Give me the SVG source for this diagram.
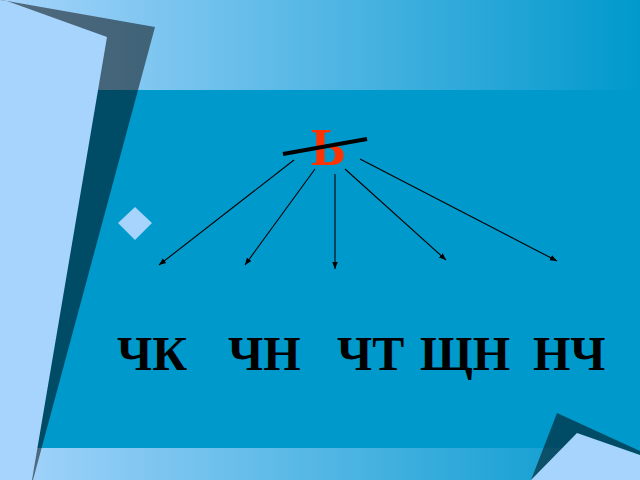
<svg xmlns="http://www.w3.org/2000/svg" width="640" height="480" viewBox="0 0 640 480">
<defs>
<linearGradient id="band" x1="0" y1="0" x2="640" y2="0" gradientUnits="userSpaceOnUse">
<stop offset="0" stop-color="#a6d4fc"/>
<stop offset="1" stop-color="#0099cc"/>
</linearGradient>
<marker id="ah" viewBox="0 0 10 10" refX="10" refY="5" markerWidth="7" markerHeight="7" markerUnits="userSpaceOnUse" orient="auto">
<path d="M0,1 L10,5 L0,9 Z" fill="#000"/>
</marker>
<style>
.shadow{fill:#000;opacity:0.5}
.panel{fill:#a6d4fc}
.word{font-family:"Liberation Serif","Times New Roman",serif;font-weight:bold;font-size:48px;fill:#000}
.soft{font-family:"Liberation Serif","Times New Roman",serif;font-weight:bold;font-size:53px;fill:#ff3300}
.conn line{stroke:#000;stroke-width:1.1;marker-end:url(#ah)}
</style>
</defs>
<g id="background">
<rect x="0" y="0" width="640" height="480" fill="url(#band)"/>
<rect x="0" y="90" width="640" height="358" fill="#0099cc"/>
<polygon class="shadow" points="7,1 155,27 33,480 0,480 0,0"/>
<polygon class="panel" points="0,0 7,1 107,37 32,480 0,480"/>
<polygon class="shadow" points="557,413 640,451 640,480 531,480"/>
<polygon class="panel" points="577,433 640,455 640,480 531,480"/>
</g>
<g id="bullet">
<polygon points="135,207 152,223 135,240 118,223" fill="#a6d4fc"/>
</g>
<g id="soft-sign">
<text class="soft" x="311" y="165">Ь</text>
<line x1="283" y1="154" x2="367" y2="139" stroke="#000" stroke-width="4"/>
</g>
<g class="conn" id="connectors">
<line x1="294" y1="160" x2="159" y2="265"/>
<line x1="315" y1="169" x2="245" y2="265"/>
<line x1="335" y1="174" x2="335" y2="269"/>
<line x1="345" y1="169" x2="446" y2="260"/>
<line x1="360" y1="159" x2="557" y2="261"/>
</g>
<g id="node-ck"><text class="word" x="117" y="370">ЧК</text></g>
<g id="node-chn"><text class="word" x="228" y="370">ЧН</text></g>
<g id="node-cht"><text class="word" x="337" y="370">ЧТ</text></g>
<g id="node-shchn"><text class="word" x="420" y="370">ЩН</text></g>
<g id="node-nch"><text class="word" x="533" y="370">НЧ</text></g>
</svg>
